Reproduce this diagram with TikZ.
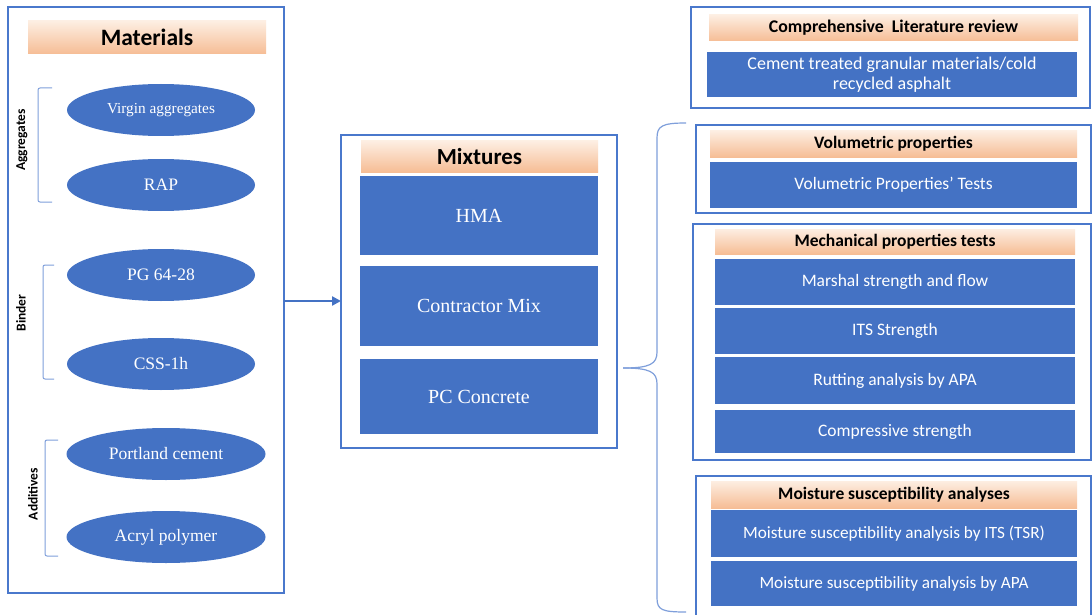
\documentclass[tikz,border=0pt]{standalone}
\usepackage{fontspec}
\setmainfont{Liberation Serif}
\newfontfamily\carl{Carlito}
\usetikzlibrary{shapes.geometric,arrows.meta}
\definecolor{bl}{HTML}{4472C4}
\definecolor{fr}{HTML}{4A78CC}
\definecolor{br}{HTML}{7F9FDB}
\definecolor{htop}{HTML}{FDEEE2}
\definecolor{hbot}{HTML}{F6BD95}
\tikzset{
  frame/.style={draw=fr, line width=2.3pt, inner sep=0pt, outer sep=0pt},
  hdr/.style={top color=htop, bottom color=hbot, draw=none, inner sep=0pt, outer sep=0pt, font=\carl\bfseries\fontsize{17.5}{20}\selectfont, text=black},
  bbox/.style={fill=bl, draw=none, inner sep=0pt, outer sep=0pt, text=white, align=center},
  sbox/.style={bbox, font=\carl\fontsize{17.5}{21}\selectfont},
  tbox/.style={bbox, font=\fontsize{20}{23}\selectfont},
  ell/.style={ellipse, fill=bl, draw=none, inner sep=0pt, text=white, minimum width=188pt, minimum height=52pt, font=\fontsize{17.5}{20}\selectfont},
  brk/.style={draw=br, line width=1pt, rounded corners=2pt},
  side/.style={rotate=90, font=\carl\bfseries\fontsize{13.5}{15}\selectfont, text=black},
  conn/.style={draw=bl, line width=2.3pt, -{Triangle[length=9pt,width=9pt]}},
}
\begin{document}
\begin{tikzpicture}[x=1pt,y=-1pt]
\useasboundingbox[fill=white] (0,0) rectangle (1092,615);
% Materials
\node[frame, minimum width=276pt, minimum height=586pt] (mat) at (146,300) {};
\node[hdr, minimum width=238pt, minimum height=33pt, font=\carl\bfseries\fontsize{23.5}{26}\selectfont] (math) at (147,37.5) {Materials};
\node[ell, font=\fontsize{15.3}{18}\selectfont] (va) at (161,110) {Virgin aggregates};
\node[ell] (rap) at (161,185) {RAP};
\node[ell] (pg) at (161,275) {PG 64-28};
\node[ell] (css) at (161,364) {CSS-1h};
\node[ell, minimum width=199pt] (pc) at (166,454) {Portland cement};
\node[ell, minimum width=199pt] (ap) at (166,537) {Acryl polymer};
\draw[brk] (52,88) -- (38,88) -- (38,202) -- (52,202);
\draw[brk] (54,265) -- (43,265) -- (43,379) -- (54,379);
\draw[brk] (58,440) -- (45,440) -- (45,556) -- (58,556);
\node[side] (lagg) at (22,140) {Aggregates};
\node[side] (lbin) at (21,313) {Binder};
\node[side] (ladd) at (33,494) {Additives};
% Mixtures
\node[frame, minimum width=276pt, minimum height=313pt] (mix) at (479,291.5) {};
\node[hdr, minimum width=237pt, minimum height=31pt, font=\carl\bfseries\fontsize{23}{26}\selectfont] (mixh) at (479.5,156.5) {Mixtures};
\node[tbox, minimum width=238pt, minimum height=79pt] (hma) at (479,215.5) {HMA};
\node[tbox, minimum width=238pt, minimum height=80pt] (cm) at (479,306) {Contractor Mix};
\node[tbox, minimum width=238pt, minimum height=75pt] (pcc) at (479,396.5) {PC Concrete};
\coordinate (a0) at (mat.east |- 0,301);
\draw[conn] (a0) -- (a0 -| mix.west);
% Literature
\node[frame, minimum width=399pt, minimum height=101pt] (lit) at (890.5,57.5) {};
\node[hdr, minimum width=369pt, minimum height=26pt, font=\carl\bfseries\fontsize{17.8}{20}\selectfont] (lith) at (893.5,28) {Comprehensive\ \ Literature review};
\node[sbox, minimum width=370pt, minimum height=45pt, font=\carl\fontsize{18}{20}\selectfont] (litc) at (892,74.5) {Cement treated granular materials/cold\\recycled asphalt};
% Volumetric
\node[frame, minimum width=395pt, minimum height=88pt] (vol) at (893.5,169) {};
\node[hdr, minimum width=367pt, minimum height=26pt] (volh) at (893.5,144) {Volumetric properties};
\node[sbox, minimum width=367pt, minimum height=46pt] (volc) at (893.5,185) {Volumetric Properties’ Tests};
% Mechanical
\node[frame, minimum width=398pt, minimum height=236pt] (mec) at (892,342) {};
\node[hdr, minimum width=360pt, minimum height=25pt] (mech) at (895,241.5) {Mechanical properties tests};
\node[sbox, minimum width=360pt, minimum height=46pt] (m1) at (895,282) {Marshal strength and flow};
\node[sbox, minimum width=360pt, minimum height=46pt] (m2) at (895,331) {ITS Strength};
\node[sbox, minimum width=360pt, minimum height=47pt] (m3) at (895,380.5) {Rutting analysis by APA};
\node[sbox, minimum width=360pt, minimum height=43pt] (m4) at (895,431.5) {Compressive strength};
% Moisture
\node[frame, minimum width=395pt, minimum height=142pt] (moi) at (893.5,547) {};
\node[hdr, minimum width=366pt, minimum height=27pt] (moih) at (894,494.5) {Moisture susceptibility analyses};
\node[sbox, minimum width=366pt, minimum height=47pt, font=\carl\fontsize{17.2}{20}\selectfont] (s1) at (894,533.5) {Moisture susceptibility analysis by ITS (TSR)};
\node[sbox, minimum width=366pt, minimum height=45pt, font=\carl\fontsize{17.2}{20}\selectfont] (s2) at (894,583.5) {Moisture susceptibility analysis by APA};
% Brace
\coordinate (btop) at (686,123);
\coordinate (bbot) at (686,612);
\coordinate (btip) at (623,368);
\draw[draw=br, line width=1.2pt] (btop) .. controls (662,123) and (657,126) .. (657,138) -- (657,352) .. controls (657,364) and (650,368) .. (btip);
\draw[draw=br, line width=1.2pt] (btip) .. controls (650,368) and (657,372) .. (657,384) -- (657,598) .. controls (657,610) and (662,612) .. (bbot);
\end{tikzpicture}
\end{document}
